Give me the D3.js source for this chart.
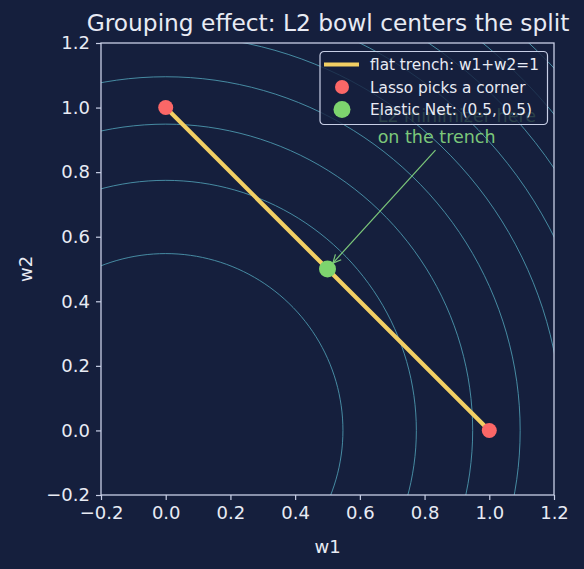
<!DOCTYPE html>
<html>
<head>
<meta charset="utf-8">
<script src="https://cdn.jsdelivr.net/npm/d3@7"></script>
<style>
  body { margin: 0; background: #151f3d; }
  text { font-family: "DejaVu Sans", sans-serif; }
</style>
</head>
<body>
<div class="chart"></div>
<script>
// size + margins
var W = 584, H = 569;
var margin = {top: 43, left: 101, right: 30, bottom: 74};
var width = W - margin.left - margin.right;   // 453
var height = H - margin.top - margin.bottom;  // 452

// data
var domain = [-0.2, 1.2];
var tickVals = [-0.2, 0, 0.2, 0.4, 0.6, 0.8, 1.0, 1.2];
var bowlLevels = [0.3, 0.6, 0.9, 1.2, 1.5, 1.8, 2.1, 2.4, 2.7]; // w1^2+w2^2
var trench = [[0, 1], [1, 0]];
var lassoPts = [[0, 1], [1, 0]];
var enetPt = [0.5, 0.5];
var noteLines = ["L2 minimizer here", "on the trench"];
var notePos = [0.655, 0.955];

var colors = {
  bg: "#151f3d",
  axis: "#c8cfe6",
  text: "#e8ebf4",
  contour: "#4f9db4",
  trench: "#f2cf63",
  lasso: "#fb6767",
  enet: "#7dd46e",
  note: "#7cc87a"
};

var svg = d3.select(".chart").append("svg")
  .attr("width", W).attr("height", H);

svg.append("rect").attr("width", W).attr("height", H).attr("fill", colors.bg);

var g = svg.append("g")
  .attr("transform", "translate(" + margin.left + "," + margin.top + ")");

var x = d3.scaleLinear().domain(domain).range([0, width]);
var y = d3.scaleLinear().domain(domain).range([height, 0]);

svg.append("defs").append("clipPath").attr("id", "clip")
  .append("rect").attr("width", width).attr("height", height);

// bowl contours (circles around origin)
var circ = d3.range(0, 361, 2).map(a => a * Math.PI / 180);
var line = d3.line().x(d => x(d[0])).y(d => y(d[1]));
g.append("g").attr("clip-path", "url(#clip)")
  .selectAll("path").data(bowlLevels).enter().append("path")
  .attr("d", lv => line(circ.map(a => [Math.sqrt(lv) * Math.cos(a), Math.sqrt(lv) * Math.sin(a)])))
  .attr("fill", "none")
  .attr("stroke", colors.contour)
  .attr("stroke-opacity", 0.85)
  .attr("stroke-width", 1);

// trench line
g.append("path").datum(trench)
  .attr("d", line)
  .attr("stroke", colors.trench)
  .attr("stroke-width", 4.2)
  .attr("stroke-linecap", "round")
  .attr("fill", "none");

// lasso corners
g.selectAll(".lasso").data(lassoPts).enter().append("circle")
  .attr("cx", d => x(d[0])).attr("cy", d => y(d[1]))
  .attr("r", 7.5).attr("fill", colors.lasso);

// elastic net point
g.append("circle")
  .attr("cx", x(enetPt[0])).attr("cy", y(enetPt[1]))
  .attr("r", 8.5).attr("fill", colors.enet);

// annotation text + arrow (first line sits under the legend, like the original)
var note = g.append("text")
  .attr("x", x(notePos[0])).attr("y", y(notePos[1]))
  .attr("fill", colors.note)
  .style("font-size", "17.5px");
note.selectAll("tspan").data(noteLines).enter().append("tspan")
  .attr("x", x(notePos[0]))
  .attr("dy", (d, i) => i ? "1.2em" : 0)
  .text(d => d);
var bb = note.node().getBBox();
var cx0 = bb.x + bb.width / 2, cy0 = bb.y + bb.height / 2;
var px = x(enetPt[0]), py = y(enetPt[1]);
var ty = bb.y + bb.height + 3;
var sx = cx0 + (px - cx0) * (ty - cy0) / (py - cy0);
var ang = Math.atan2(py - ty, px - sx);
var ex = px - Math.cos(ang) * 8, ey = py - Math.sin(ang) * 8;
g.append("line")
  .attr("x1", sx).attr("y1", ty).attr("x2", ex).attr("y2", ey)
  .attr("stroke", colors.note).attr("stroke-width", 1.2);
var hl = 9;
[0.45, -0.45].forEach(function(da) {
  g.append("line")
    .attr("x1", ex).attr("y1", ey)
    .attr("x2", ex - hl * Math.cos(ang + da)).attr("y2", ey - hl * Math.sin(ang + da))
    .attr("stroke", colors.note).attr("stroke-width", 1.2);
});

// axes
var fmt = d3.format(".1f");
var xAxis = g.append("g").attr("transform", "translate(0," + height + ")")
  .call(d3.axisBottom(x).tickValues(tickVals).tickFormat(fmt).tickSize(5).tickPadding(6));
var yAxis = g.append("g")
  .call(d3.axisLeft(y).tickValues(tickVals).tickFormat(fmt).tickSize(5).tickPadding(6));
[xAxis, yAxis].forEach(function(a) {
  a.select(".domain").remove();
  a.selectAll(".tick line").attr("stroke", colors.axis).attr("stroke-width", 1.2);
  a.selectAll(".tick text").attr("fill", colors.text)
    .style("font-size", "18px").style("font-family", "DejaVu Sans");
});
g.append("rect").attr("width", width).attr("height", height)
  .attr("fill", "none").attr("stroke", colors.axis).attr("stroke-width", 1.3);

// labels
svg.append("text").attr("x", margin.left + width / 2 + 0.5).attr("y", 31)
  .attr("text-anchor", "middle").attr("fill", colors.text)
  .style("font-size", "23.3px").text("Grouping effect: L2 bowl centers the split");
svg.append("text").attr("x", margin.left + width / 2).attr("y", 553)
  .attr("text-anchor", "middle").attr("fill", colors.text)
  .style("font-size", "18px").text("w1");
svg.append("text")
  .attr("transform", "translate(32," + (margin.top + height / 2) + ") rotate(-90)")
  .attr("text-anchor", "middle").attr("fill", colors.text)
  .style("font-size", "18px").text("w2");

// legend
var leg = svg.append("g").attr("transform", "translate(320,51.5)");
leg.append("rect").attr("width", 227.5).attr("height", 73).attr("rx", 4)
  .attr("fill", colors.bg).attr("fill-opacity", 0.8)
  .attr("stroke", colors.axis).attr("stroke-width", 1.2);
var items = [
  {label: "flat trench: w1+w2=1", type: "line", color: colors.trench},
  {label: "Lasso picks a corner", type: "dot", color: colors.lasso, r: 7},
  {label: "Elastic Net: (0.5, 0.5)", type: "dot", color: colors.enet, r: 8.5}
];
items.forEach(function(it, i) {
  var yy = 13 + i * 22.5;
  if (it.type === "line") {
    leg.append("line").attr("x1", 4).attr("x2", 39).attr("y1", yy).attr("y2", yy)
      .attr("stroke", it.color).attr("stroke-width", 4);
  } else {
    leg.append("circle").attr("cx", 22).attr("cy", yy).attr("r", it.r).attr("fill", it.color);
  }
  leg.append("text").attr("x", 50).attr("y", yy + 5.5)
    .attr("fill", colors.text).style("font-size", "15.3px").text(it.label);
});
</script>
</body>
</html>
